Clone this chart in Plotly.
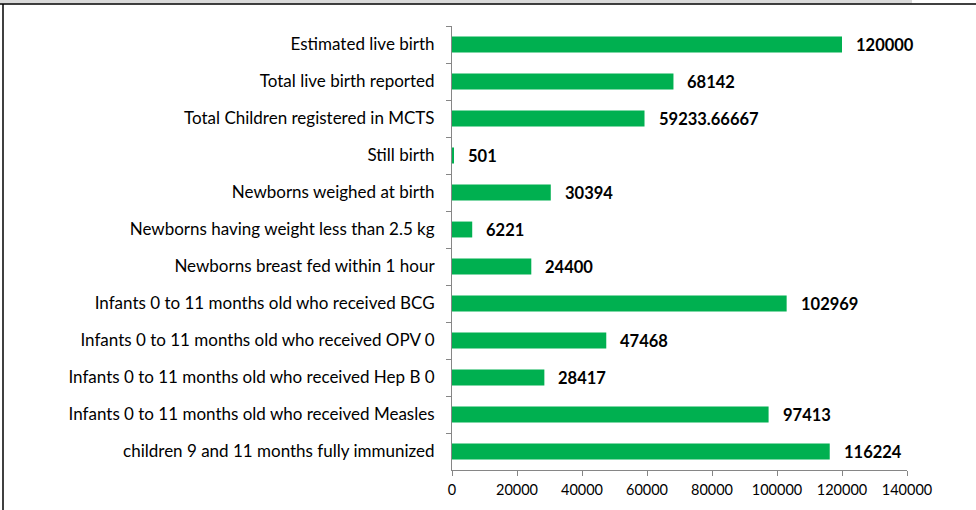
import plotly.graph_objects as go

categories = [
    "Estimated live birth",
    "Total live birth reported",
    "Total Children registered in MCTS",
    "Still birth",
    "Newborns weighed at birth",
    "Newborns having weight less than 2.5 kg",
    "Newborns breast fed within 1 hour",
    "Infants 0 to 11 months old who received BCG",
    "Infants 0 to 11 months old who received OPV 0",
    "Infants 0 to 11 months old who received Hep B 0",
    "Infants 0 to 11 months old who received Measles",
    "children 9 and 11 months fully immunized",
]
values = [120000, 68142, 59233.66667, 501, 30394, 6221, 24400, 102969, 47468, 28417, 97413, 116224]
value_labels = ["120000", "68142", "59233.66667", "501", "30394", "6221", "24400",
                "102969", "47468", "28417", "97413", "116224"]
tick_vals = [0, 20000, 40000, 60000, 80000, 100000, 120000, 140000]

FONT = "Lato"

fig = go.Figure(go.Bar(
    x=values, y=categories, orientation="h",
    marker=dict(color="#00B050", line=dict(width=0)),
    width=0.43,
))

for c, v, t in zip(categories, values, value_labels):
    fig.add_annotation(x=v, y=c, text="<b>" + t + "</b>", showarrow=False,
                       xanchor="left", xshift=12, font=dict(family=FONT, size=16.5, color="black"))

fig.update_layout(
    width=976, height=510,
    margin=dict(l=452, r=69, t=26, b=40),
    plot_bgcolor="white", paper_bgcolor="white",
    showlegend=False,
    font=dict(family=FONT, size=17, color="black"),
    xaxis=dict(range=[0, 140000], tickvals=tick_vals, ticktext=[str(v) for v in tick_vals],
               showgrid=False, zeroline=False, showline=True, linecolor="#868686", linewidth=1,
               ticks="outside", ticklen=5, tickcolor="#868686", tickfont=dict(size=14.5),
               ticklabelstandoff=2, automargin=False),
    yaxis=dict(autorange="reversed", showgrid=False, showline=True, linecolor="#868686", linewidth=1,
               ticks="outside", ticklen=5, tickcolor="#868686", tickson="boundaries",
               ticklabelstandoff=13, tickfont=dict(size=17), automargin=False),
    shapes=[
        dict(type="rect", xref="paper", yref="paper", x0=-452/455, x1=(912-452)/455,
             y0=1 + 22.5/444, y1=1 + 26/444, fillcolor="#D9D9D9", line=dict(width=0), layer="above"),
        dict(type="line", xref="paper", yref="paper", x0=-452/455, x1=1 + 69/455,
             y0=1 + 22/444, y1=1 + 22/444, line=dict(color="black", width=1.5), layer="above"),
        dict(type="line", xref="paper", yref="paper", x0=-449/455, x1=-449/455,
             y0=-40/444, y1=1 + 22/444, line=dict(color="black", width=1.5), layer="above"),
    ],
)

fig.write_html("out.html", post_script="document.body.style.margin='0';",
               config={"displayModeBar": False})
